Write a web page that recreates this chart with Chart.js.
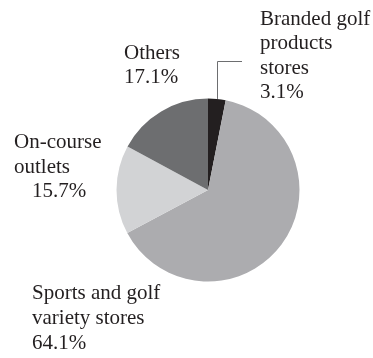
<!DOCTYPE html>
<html>
<head>
<meta charset="utf-8">
<script src="https://cdn.jsdelivr.net/npm/chart.js@4/dist/chart.umd.min.js"></script>
<style>
  html, body { margin: 0; padding: 0; background: #fff; }
  #wrap { width: 373px; height: 358px; position: relative; }
</style>
</head>
<body>
<div id="wrap"><canvas id="pieChart"></canvas></div>
<script>
// Chart data
const categories = ['Branded golf products stores', 'Sports and golf variety stores', 'On-course outlets', 'Others'];
const shares = [3.1, 64.1, 15.7, 17.1];
const sliceColors = ['#231f20', '#acacaf', '#d2d3d5', '#6d6e70'];

// label lines for each slice, drawn as text next to the pie
const labelLines = [
    ['Branded golf', 'products', 'stores', '3.1%'],
    ['Sports and golf', 'variety stores', '64.1%'],
    ['On-course', 'outlets', '15.7%'],
    ['Others', '17.1%']
];

// where each label block sits (x per line, first baseline, line step)
const labelPlaces = [
    { x: [260, 260, 260, 260], y: 25, step: 24.3 },
    { x: [32, 32, 32], y: 299, step: 25 },
    { x: [14, 14, 32], y: 148, step: 24.5 },
    { x: [124, 124], y: 59, step: 24 }
];

const labelPlugin = {
    id: 'sliceLabels',
    afterDraw(chart) {
        const ctx = chart.ctx;
        ctx.save();
        ctx.font = '21px "Liberation Serif", "Times New Roman", serif';
        ctx.fillStyle = '#231f20';
        ctx.textBaseline = 'alphabetic';
        ctx.textAlign = 'left';
        labelLines.forEach((lines, i) => {
            const p = labelPlaces[i];
            lines.forEach((txt, j) => {
                ctx.fillText(txt, p.x[j], p.y + j * p.step);
            });
        });

        // leader line for the small slice
        const arc = chart.getDatasetMeta(0).data[0];
        const mid = (arc.startAngle + arc.endAngle) / 2;
        const ex = arc.x + Math.cos(mid) * arc.outerRadius;
        const ey = arc.y + Math.sin(mid) * arc.outerRadius;
        ctx.strokeStyle = '#6d6e70';
        ctx.lineWidth = 1;
        ctx.beginPath();
        ctx.moveTo(Math.round(ex) + 0.5, ey);
        ctx.lineTo(Math.round(ex) + 0.5, 61.5);
        ctx.lineTo(242, 61.5);
        ctx.stroke();
        ctx.restore();
    }
};

new Chart(document.getElementById('pieChart'), {
    type: 'pie',
    data: {
        labels: categories,
        datasets: [{
            data: shares,
            backgroundColor: sliceColors,
            borderWidth: 0
        }]
    },
    options: {
        responsive: true,
        maintainAspectRatio: false,
        animation: false,
        layout: { padding: { left: 116.5, right: 73.5, top: 98.5, bottom: 76.5 } },
        plugins: {
            legend: { display: false },
            tooltip: { enabled: false }
        }
    },
    plugins: [labelPlugin]
});
</script>
</body>
</html>
